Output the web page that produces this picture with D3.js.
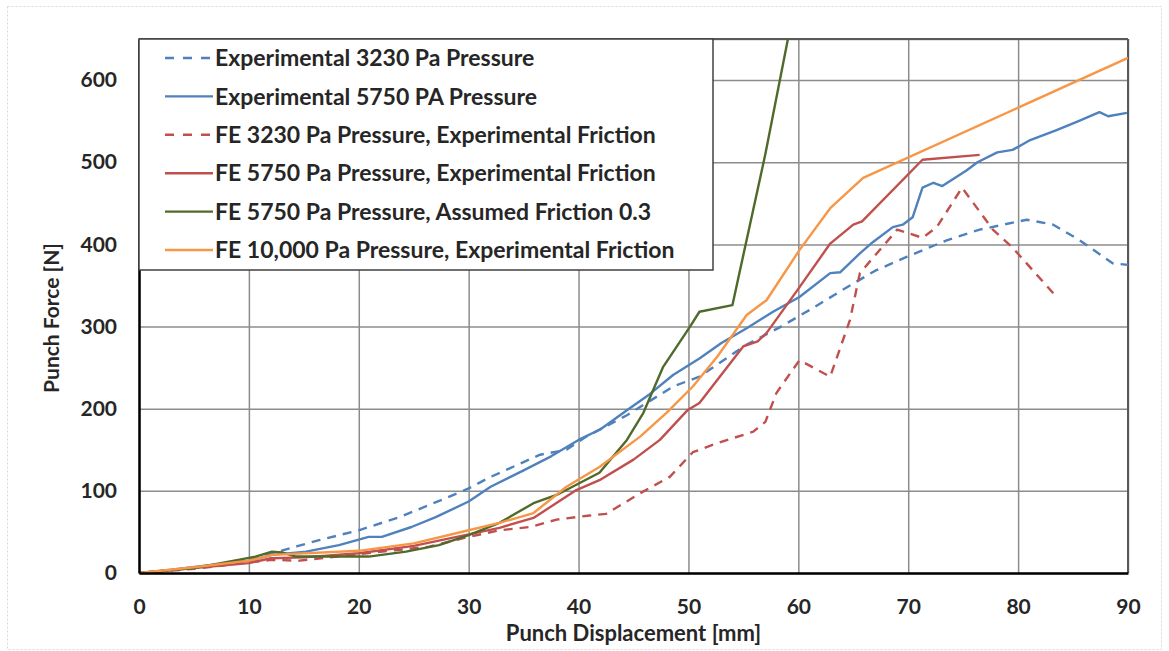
<!DOCTYPE html>
<html>
<head>
<meta charset="utf-8">
<script src="https://cdn.jsdelivr.net/npm/d3@7.9.0/dist/d3.min.js"></script>
<style>
  body { margin: 0; background: #fff; }
  svg text { font-family: Lato, "Open Sans", sans-serif; font-weight: bold; fill: #262626; }
</style>
</head>
<body>
<svg id="chart" width="1169" height="651"></svg>
<script>
// values: [displacement mm, force N]
const exp3230 = [[0,0],[5,6],[10,16],[12.7,26],[14.5,33],[16.4,40],[20,52],[23.7,68],[27.9,91],[30,103],[32,117],[36.5,144],[38.9,150],[40.7,166],[44.4,192],[48.6,227],[51,239],[55.3,278],[58.3,299],[61,320],[64.7,350],[67,368],[69.9,385],[73.5,405],[76.5,418],[80.8,430],[83.2,424],[85.6,405],[88.6,377],[90,375]];
const exp5750 = [[0,0],[3,4],[6,9],[10,15],[12.1,22],[15.2,26],[18.2,34],[20.9,44],[22.1,44],[24.8,56],[27,68],[30,87],[32,105],[35,125],[37.5,142],[40,162],[42,175],[44.4,198],[46.5,218],[48.6,241],[51,261],[53,280],[55.3,298],[57.7,318],[60.1,336],[62.9,365],[63.8,366],[65.6,389],[66.8,403],[68.6,421],[69.5,424],[70.4,433],[71.3,469],[72.3,475],[73.1,471],[75.3,490],[76.3,500],[78.1,512],[79.5,515],[81.1,527],[83.5,539],[85.5,550],[87.4,561],[88.2,556],[89.9,560]];
const fe3230 = [[0,0],[5,5],[10,13],[12.1,16],[14.6,15],[20,23],[26.4,32],[30,44],[32.8,52],[35.6,56],[38,65],[41,70],[42.5,72],[45.6,97],[48.3,117],[50.4,147],[52.6,158],[55.9,172],[57,184],[58,219],[60.1,259],[62.9,239],[64.7,308],[65.6,365],[69,418],[71.3,408],[72.6,421],[74.9,469],[77.7,418],[79.5,396],[83.5,336]];
const fe5750 = [[0,0],[5,6],[10,12],[12,18],[15,19],[20,24],[25,33],[30,47],[32.8,55],[35.9,67],[39.8,101],[41.9,113],[45,138],[47.4,162],[49.9,198],[51,207],[55,276],[56.3,282],[57.1,292],[59.9,344],[62.9,401],[65,424],[65.8,428],[71.3,503],[76.5,509]];
const fe5750f03 = [[0,0],[5,6],[10.6,20],[12.1,26],[13,25],[14.3,20],[20.9,20],[24.3,26],[27.3,34],[30,46],[32.8,61],[35.9,85],[38,95],[41.9,122],[44.4,162],[45.9,195],[47.7,251],[50.1,299],[51,318],[54,326],[57,510],[59.2,660]];
const fe10000 = [[0,0],[5,7],[10,15],[12.1,22],[20,27],[25,36],[30,52],[32.8,61],[35.9,73],[38.9,105],[41.9,129],[45.6,166],[48,195],[50.4,227],[52.6,263],[55.3,314],[57.1,332],[60.1,393],[62.9,444],[65.9,481],[90,627]];

const seriesNames = [
  "Experimental 3230 Pa Pressure",
  "Experimental 5750 PA Pressure",
  "FE 3230 Pa Pressure, Experimental Friction",
  "FE 5750 Pa Pressure, Experimental Friction",
  "FE 5750 Pa Pressure, Assumed Friction 0.3",
  "FE 10,000 Pa Pressure, Experimental Friction"
];
const seriesData = [exp3230, exp5750, fe3230, fe5750, fe5750f03, fe10000];
const seriesColors = ["#4f81bd", "#4f81bd", "#c0504d", "#c0504d", "#4f6a2a", "#f79646"];
const seriesDashed = [true, false, true, false, false, false];

const xTicks = [0,10,20,30,40,50,60,70,80,90];
const yTicks = [0,100,200,300,400,500,600];

const svg = d3.select('#chart');
const pLeft = 139, pRight = 1128, pTop = 39, pBottom = 573;

const x = d3.scaleLinear().domain([0, 90]).range([pLeft, pRight]);
const y = d3.scaleLinear().domain([0, 650]).range([pBottom, pTop]);

// outer frame
svg.append('rect')
  .attr('x', 7.5).attr('y', 6.5).attr('width', 1154).attr('height', 643)
  .attr('fill', 'none').attr('stroke', '#d9d9d9').attr('stroke-dasharray', '2,2');

// grid
svg.append('g')
  .attr('transform', `translate(0,${pBottom})`)
  .call(d3.axisBottom(x).tickValues(xTicks).tickSize(-(pBottom - pTop)).tickFormat(''))
  .call(g => g.select('.domain').remove())
  .selectAll('line').attr('stroke', '#8c8c8c').attr('stroke-width', 1.5);
svg.append('g')
  .attr('transform', `translate(${pLeft},0)`)
  .call(d3.axisLeft(y).tickValues(yTicks.concat([650])).tickSize(-(pRight - pLeft)).tickFormat(''))
  .call(g => g.select('.domain').remove())
  .selectAll('line').attr('stroke', '#8c8c8c').attr('stroke-width', 1.5);

// frame of plot
svg.append('line').attr('x1', pRight).attr('x2', pRight).attr('y1', pTop).attr('y2', pBottom)
  .attr('stroke', '#595959').attr('stroke-width', 2);
svg.append('line').attr('x1', pLeft).attr('x2', pRight).attr('y1', pTop).attr('y2', pTop)
  .attr('stroke', '#595959').attr('stroke-width', 2);

// lines
svg.append('clipPath').attr('id', 'plotclip')
  .append('rect').attr('x', pLeft).attr('y', pTop).attr('width', pRight - pLeft).attr('height', pBottom - pTop);

const line = d3.line().x(d => x(d[0])).y(d => y(d[1]));
const lines = svg.append('g').attr('clip-path', 'url(#plotclip)');
seriesData.forEach((s, i) => {
  lines.append('path')
    .attr('d', line(s))
    .attr('fill', 'none')
    .attr('stroke', seriesColors[i])
    .attr('stroke-width', 2.4)
    .attr('stroke-linejoin', 'round')
    .attr('stroke-dasharray', seriesDashed[i] ? '9,7' : null);
});

// axes
const xAxis = svg.append('g')
  .attr('transform', `translate(0,${pBottom})`)
  .call(d3.axisBottom(x).tickValues(xTicks).tickSize(0).tickPadding(26));
xAxis.select('.domain').attr('stroke', '#000').attr('stroke-width', 2.5);
xAxis.selectAll('text').attr('font-size', 21).attr('fill', '#262626');

const yAxis = svg.append('g')
  .attr('transform', `translate(${pLeft},0)`)
  .call(d3.axisLeft(y).tickValues(yTicks).tickSize(0).tickPadding(22));
yAxis.select('.domain').attr('stroke', '#000').attr('stroke-width', 2.5);
yAxis.selectAll('text').attr('font-size', 21).attr('fill', '#262626');

svg.append('text')
  .attr('x', (pLeft + pRight) / 2).attr('y', 641)
  .attr('text-anchor', 'middle').attr('font-size', 22)
  .text('Punch Displacement [mm]');
svg.append('text')
  .attr('transform', `translate(59,${(pTop + pBottom) / 2 + 12}) rotate(-90)`)
  .attr('text-anchor', 'middle').attr('font-size', 21)
  .text('Punch Force [N]');

// legend
const legend = svg.append('g');
legend.append('rect')
  .attr('x', pLeft).attr('y', pTop).attr('width', 574).attr('height', 231)
  .attr('fill', '#fff').attr('stroke', '#404040').attr('stroke-width', 1.5);
seriesNames.forEach((name, i) => {
  const ly = 58 + i * 38.4;
  legend.append('line')
    .attr('x1', 165).attr('x2', 213).attr('y1', ly).attr('y2', ly)
    .attr('stroke', seriesColors[i]).attr('stroke-width', 2.4)
    .attr('stroke-dasharray', seriesDashed[i] ? '9,9' : null);
  legend.append('text')
    .attr('x', 215).attr('y', ly).attr('dy', '0.36em')
    .attr('font-size', 23)
    .text(name);
});
</script>
</body>
</html>
